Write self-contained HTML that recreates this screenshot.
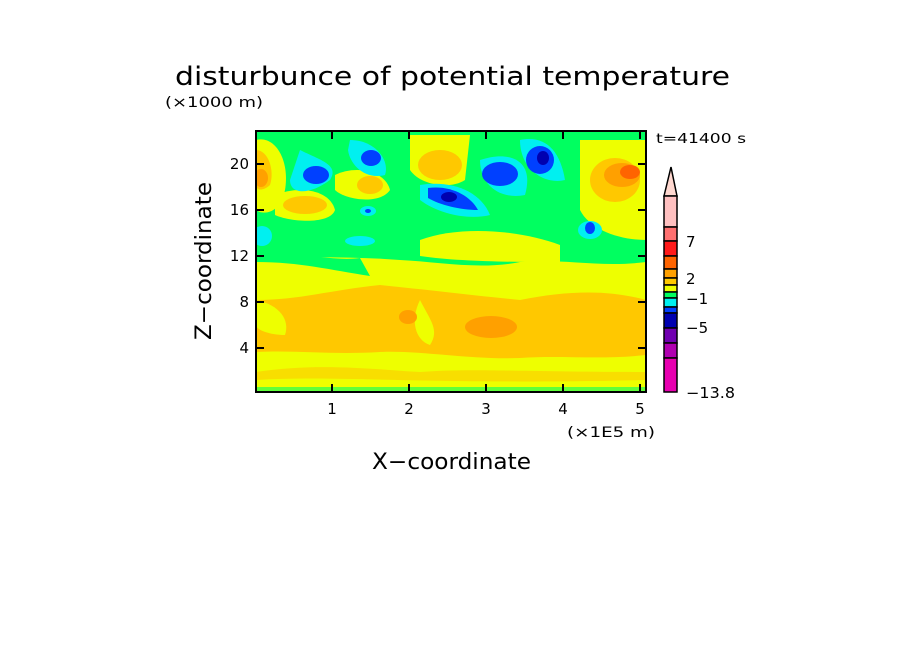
<!DOCTYPE html><html><head><style>body{margin:0;background:#fff}svg{display:block}text{font-family:"DejaVu Sans","Liberation Sans",sans-serif;fill:#000}</style></head><body>
<svg width="904" height="654" xmlns="http://www.w3.org/2000/svg">
<defs><clipPath id="c"><rect x="256" y="131" width="390" height="261"/></clipPath></defs>
<g clip-path="url(#c)">
<rect x="256" y="131" width="390" height="261" fill="#eeff00"/>
<path d="M256 131H646V262C600 268 560 258 520 262C480 270 440 262 400 260C350 256 300 258 256 256Z" fill="#00ff60"/>
<path d="M256 255C300 250 330 262 360 258L370 276C330 270 300 262 256 262Z" fill="#00ff60"/>
<path d="M256 140C275 135 290 160 285 190C280 215 262 215 256 210Z" fill="#eeff00"/>
<path d="M256 150C268 150 275 170 270 185C262 192 256 190 256 185Z" fill="#ffc800"/>
<ellipse cx="261" cy="178" rx="7" ry="9" fill="#ffa000"/>
<path d="M275 195C300 185 330 190 335 210C330 225 290 222 275 215Z" fill="#eeff00"/>
<ellipse cx="305" cy="205" rx="22" ry="9" fill="#ffc800"/>
<path d="M335 175C355 165 385 170 390 190C380 205 345 200 335 190Z" fill="#eeff00"/>
<ellipse cx="370" cy="185" rx="13" ry="9" fill="#ffc800"/>
<path d="M410 135H470L465 180C450 190 420 185 410 170Z" fill="#eeff00"/>
<ellipse cx="440" cy="165" rx="22" ry="15" fill="#ffc800"/>
<path d="M420 240C460 225 520 230 560 245L560 262C520 262 460 262 420 256Z" fill="#eeff00"/>
<path d="M580 140H646V240C620 240 590 230 580 210Z" fill="#eeff00"/>
<ellipse cx="615" cy="180" rx="25" ry="22" fill="#ffc800"/>
<ellipse cx="622" cy="175" rx="18" ry="12" fill="#ffa000"/>
<ellipse cx="630" cy="172" rx="10" ry="7" fill="#ff6400"/>
<path d="M300 150C320 160 340 165 330 180C310 195 290 195 290 180Z" fill="#00f0f0"/>
<ellipse cx="316" cy="175" rx="13" ry="9" fill="#0040ff"/>
<path d="M350 140C375 140 390 160 385 175C365 180 350 165 348 150Z" fill="#00f0f0"/>
<ellipse cx="371" cy="158" rx="10" ry="8" fill="#0040ff"/>
<path d="M420 185C450 180 480 190 490 215C470 220 440 215 420 200Z" fill="#00f0f0"/>
<path d="M428 188C450 185 470 195 478 210C460 210 440 205 428 198Z" fill="#0040ff"/>
<ellipse cx="449" cy="197" rx="8" ry="5" fill="#0000b0"/>
<path d="M480 160C510 150 535 160 525 195C500 200 480 185 480 160Z" fill="#00f0f0"/>
<ellipse cx="500" cy="174" rx="18" ry="12" fill="#0040ff"/>
<path d="M520 140C545 135 560 150 565 180C545 185 520 170 520 140Z" fill="#00f0f0"/>
<ellipse cx="540" cy="160" rx="14" ry="14" fill="#0040ff"/>
<ellipse cx="543" cy="158" rx="6" ry="7" fill="#0000b0"/>
<ellipse cx="368" cy="211" rx="8" ry="5" fill="#00f0f0"/><ellipse cx="368" cy="211" rx="3" ry="2" fill="#0040ff"/>
<ellipse cx="262" cy="236" rx="10" ry="10" fill="#00f0f0"/>
<ellipse cx="590" cy="230" rx="12" ry="9" fill="#00f0f0"/><ellipse cx="590" cy="228" rx="5" ry="6" fill="#0040ff"/>
<ellipse cx="360" cy="241" rx="15" ry="5" fill="#00f0f0"/>
<path d="M256 300C300 300 330 290 380 285C430 290 470 295 520 300C570 290 610 290 646 300V355C600 360 560 355 520 358C470 360 420 350 380 352C330 355 300 350 256 352Z" fill="#ffc800"/>
<path d="M256 300C280 305 290 320 285 335C270 335 256 330 256 325Z" fill="#eeff00"/>
<path d="M420 300C430 320 440 330 430 345C415 340 410 320 420 300Z" fill="#eeff00"/>
<ellipse cx="408" cy="317" rx="9" ry="7" fill="#ffa000"/>
<ellipse cx="491" cy="327" rx="26" ry="11" fill="#ffa000"/>
<path d="M256 372C320 362 380 370 420 372C470 368 520 372 646 372V392H256Z" fill="#ffc800" opacity=".6"/>
<path d="M256 380C340 375 420 385 646 380V392H256Z" fill="#eeff00"/>
<rect x="256" y="387" width="390" height="5" fill="#00ff60" opacity=".6"/>
</g>
<rect x="256" y="131" width="390" height="261" fill="none" stroke="#000" stroke-width="2"/>
<g stroke="#000" stroke-width="2">
<path d="M332 392v-8M409 392v-8M486 392v-8M563 392v-8M640 392v-8M332 131v8M409 131v8M486 131v8M563 131v8M640 131v8M256 348h8M256 302h8M256 256h8M256 210h8M256 164h8M646 348h-8M646 302h-8M646 256h-8M646 210h-8M646 164h-8"/>
</g>
<g font-size="15">
<text x="332" y="414" text-anchor="middle">1</text><text x="409" y="414" text-anchor="middle">2</text><text x="486" y="414" text-anchor="middle">3</text><text x="563" y="414" text-anchor="middle">4</text><text x="640" y="414" text-anchor="middle">5</text>
<text x="249" y="353" text-anchor="end">4</text><text x="249" y="307" text-anchor="end">8</text><text x="249" y="261" text-anchor="end">12</text><text x="249" y="215" text-anchor="end">16</text><text x="249" y="169" text-anchor="end">20</text>
</g>
<text x="567" y="437" font-size="14" textLength="88" lengthAdjust="spacingAndGlyphs">(×1E5 m)</text>
<text x="165" y="107" font-size="14" textLength="98" lengthAdjust="spacingAndGlyphs">(×1000 m)</text>
<text x="175" y="85" font-size="26" textLength="555" lengthAdjust="spacingAndGlyphs">disturbunce of potential temperature</text>
<text x="372" y="469" font-size="22" textLength="159" lengthAdjust="spacingAndGlyphs">X−coordinate</text>
<text transform="translate(211 340) rotate(-90)" font-size="22" textLength="158" lengthAdjust="spacingAndGlyphs">Z−coordinate</text>
<text x="656" y="143" font-size="13" textLength="90" lengthAdjust="spacingAndGlyphs">t=41400 s</text>
<g stroke="#000" stroke-width="1.5">
<path d="M664 196L671 167L677 196Z" fill="#ffd8d0"/>
<rect x="664" y="196" width="13" height="31" fill="#ffc0c0"/>
<rect x="664" y="227" width="13" height="14" fill="#ff7070"/>
<rect x="664" y="241" width="13" height="15" fill="#ff1a1a"/>
<rect x="664" y="256" width="13" height="13" fill="#ff6400"/>
<rect x="664" y="269" width="13" height="9" fill="#ffa000"/>
<rect x="664" y="278" width="13" height="7" fill="#ffc800"/>
<rect x="664" y="285" width="13" height="7" fill="#eeff00"/>
<rect x="664" y="292" width="13" height="6" fill="#00ff60"/>
<rect x="664" y="298" width="13" height="9" fill="#00f0f0"/>
<rect x="664" y="307" width="13" height="6" fill="#0040ff"/>
<rect x="664" y="313" width="13" height="15" fill="#0000b0"/>
<rect x="664" y="328" width="13" height="15" fill="#7000b0"/>
<rect x="664" y="343" width="13" height="15" fill="#b000b0"/>
<rect x="664" y="358" width="13" height="34" fill="#e800b0"/>
</g>
<g font-size="15">
<text x="686" y="247">7</text><text x="686" y="284">2</text><text x="686" y="304">−1</text><text x="686" y="333">−5</text><text x="686" y="398" textLength="49" lengthAdjust="spacingAndGlyphs">−13.8</text>
</g>
</svg></body></html>
